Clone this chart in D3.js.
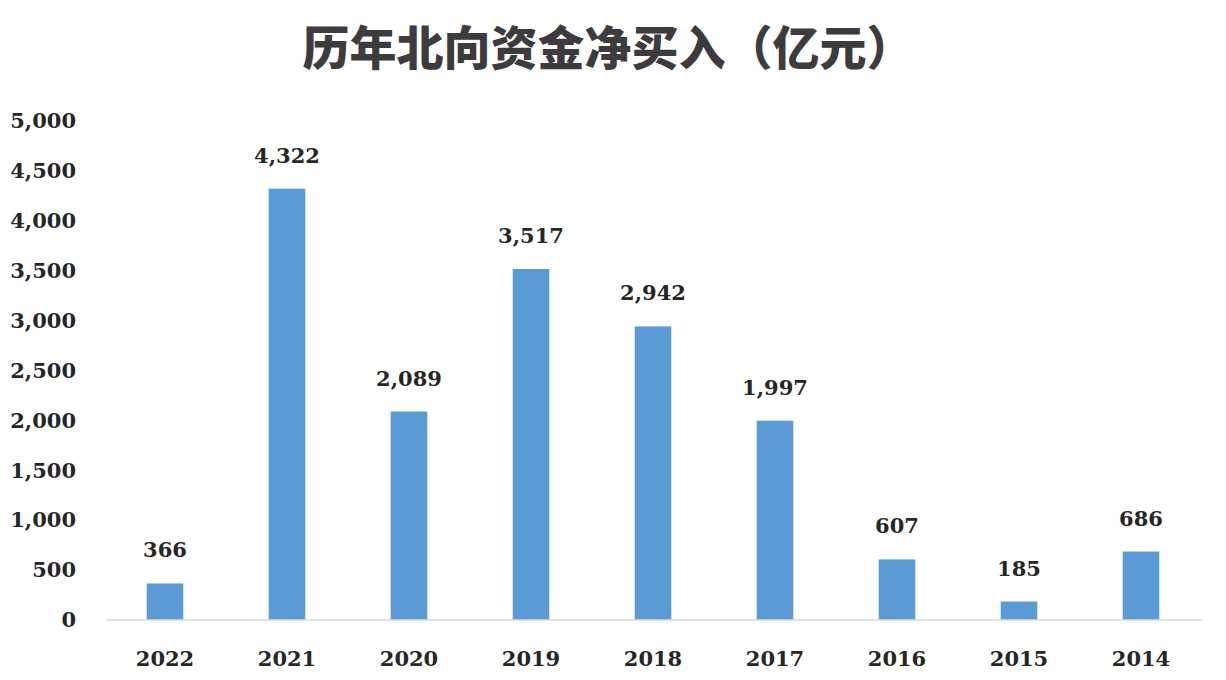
<!DOCTYPE html>
<html>
<head>
<meta charset="utf-8">
<script src="https://cdn.jsdelivr.net/npm/d3@7"></script>
<style>
  body { margin: 0; background: #fff; }
  svg text { font-family: "DejaVu Serif", serif; }
</style>
</head>
<body>
<svg id="chart" width="1226" height="680"></svg>
<script>
const years = ["2022", "2021", "2020", "2019", "2018", "2017", "2016", "2015", "2014"];
const netBuy = [366, 4322, 2089, 3517, 2942, 1997, 607, 185, 686];
const yTicks = [0, 500, 1000, 1500, 2000, 2500, 3000, 3500, 4000, 4500, 5000];

const svg = d3.select("#chart");
const fmt = d3.format(",");

const x = d3.scaleBand().domain(years).range([104, 1202]).paddingInner(0.7).paddingOuter(0.35);
const y = d3.scaleLinear().domain([0, 5000]).range([620, 121]);

svg.append("text")
  .attr("x", 598)
  .attr("y", 65)
  .attr("text-anchor", "middle")
  .style("font-family", "'Noto Sans CJK SC', sans-serif")
  .style("font-weight", 900)
  .style("font-size", "47px")
  .attr("fill", "#3d3b3d")
  .text("历年北向资金净买入（亿元）");

// y axis labels only
const yAxis = d3.axisLeft(y).tickValues(yTicks).tickFormat(fmt).tickSize(0).tickPadding(0);
svg.append("g")
  .attr("transform", "translate(76,0)")
  .call(yAxis)
  .call(g => g.select(".domain").remove())
  .call(g => g.selectAll("text")
    .style("font-family", "'DejaVu Serif', serif")
    .style("font-weight", "bold")
    .style("font-size", "21px")
    .attr("fill", "#262626"));

svg.selectAll(".bar")
  .data(years.map((d, i) => [d, netBuy[i]]))
  .join("rect")
  .attr("class", "bar")
  .attr("x", ([k]) => x(k))
  .attr("width", x.bandwidth())
  .attr("y", ([, v]) => y(v))
  .attr("height", ([, v]) => y(0) - y(v))
  .attr("fill", "#5b9bd5");

svg.selectAll(".val")
  .data(years.map((d, i) => [d, netBuy[i]]))
  .join("text")
  .attr("class", "val")
  .attr("x", ([k]) => x(k) + x.bandwidth() / 2)
  .attr("y", ([, v]) => y(v) - 26)
  .attr("text-anchor", "middle")
  .style("font-weight", "bold")
  .style("font-size", "21px")
  .attr("fill", "#262626")
  .text(([, v]) => fmt(v));

const xAxis = d3.axisBottom(x).tickSize(0).tickPadding(31);
svg.append("g")
  .attr("transform", `translate(0,${y(0)})`)
  .call(xAxis)
  .call(g => g.select(".domain").attr("stroke", "#d9d9d9").attr("stroke-width", 1.5)
    .attr("d", "M106,0H1202"))
  .call(g => g.selectAll("text")
    .style("font-family", "'DejaVu Serif', serif")
    .style("font-weight", "bold")
    .style("font-size", "21px")
    .attr("fill", "#262626"));

svg.select("text").attr("x", 608);
</script>
</body>
</html>
